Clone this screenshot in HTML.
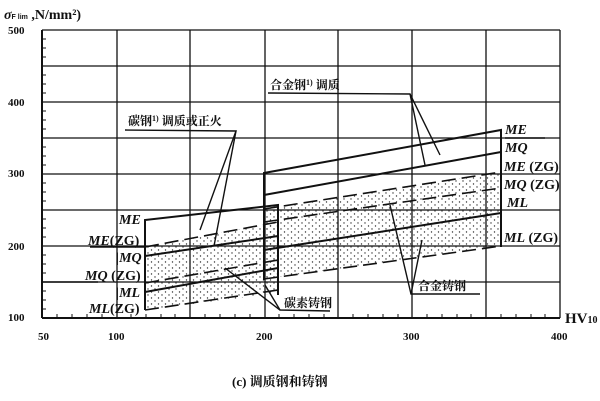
<!DOCTYPE html>
<html><head><meta charset="utf-8"><style>
body{margin:0;background:#fff}
svg{display:block}
text{font-family:"Liberation Serif","Noto Serif CJK SC",serif;fill:#111}
.b{font-family:"Liberation Sans","Noto Sans CJK SC",sans-serif;font-weight:bold}
.i{font-style:italic;font-size:14px;font-weight:bold}
</style></head><body>
<svg width="600" height="401" viewBox="0 0 600 401" xmlns="http://www.w3.org/2000/svg">
<defs>
<pattern id="d" width="7" height="6" patternUnits="userSpaceOnUse">
<circle cx="1" cy="1" r="0.7" fill="#333"/><circle cx="4.5" cy="4" r="0.7" fill="#333"/>
</pattern>
</defs>
<g stroke="#111" stroke-width="1.3">
<line x1="42" y1="30" x2="560" y2="30"/>
<line x1="42" y1="66" x2="560" y2="66"/>
<line x1="42" y1="102" x2="560" y2="102"/>
<line x1="42" y1="138" x2="560" y2="138"/>
<line x1="42" y1="174" x2="560" y2="174"/>
<line x1="42" y1="210" x2="560" y2="210"/>
<line x1="42" y1="246" x2="560" y2="246"/>
<line x1="42" y1="282" x2="560" y2="282"/>
<line x1="117" y1="30" x2="117" y2="318"/>
<line x1="190" y1="30" x2="190" y2="318"/>
<line x1="265" y1="30" x2="265" y2="318"/>
<line x1="338" y1="30" x2="338" y2="318"/>
<line x1="412" y1="30" x2="412" y2="318"/>
<line x1="486" y1="30" x2="486" y2="318"/>
<line x1="560" y1="30" x2="560" y2="318"/>
<line x1="42" y1="30" x2="42" y2="318" stroke-width="2"/>
<line x1="42" y1="318" x2="560" y2="318" stroke-width="2"/>
</g>
<polygon points="145,247 278,222 278,293 145,310" fill="url(#d)"/>
<polygon points="264,209 501,172 501,246 264,279" fill="url(#d)"/>
<g stroke="#111" fill="none" stroke-width="2">
<polyline points="145,310 145,220 278,205 278,295"/>
<line x1="145" y1="256" x2="278" y2="236"/>
<line x1="145" y1="292" x2="278" y2="268"/>
<g stroke-dasharray="14,6" stroke-width="1.6">
<line x1="145" y1="247" x2="278" y2="222"/>
<line x1="145" y1="283" x2="278" y2="260"/>
<line x1="145" y1="310" x2="278" y2="290"/>
</g>
<polyline points="264,280 264,173 501,130 501,247"/>
<line x1="264" y1="195" x2="501" y2="152"/>
<line x1="264" y1="250" x2="501" y2="213"/>
<g stroke-dasharray="14,6" stroke-width="1.6">
<line x1="264" y1="209" x2="501" y2="172"/>
<line x1="264" y1="222" x2="501" y2="188"/>
<line x1="264" y1="279" x2="501" y2="246"/>
</g>
</g>
<g stroke="#111" fill="none" stroke-width="1.4">
<polyline points="125,130 236,131 200,230"/>
<line x1="236" y1="131" x2="214" y2="246"/>
<polyline points="268,93 410,94 440,155"/>
<line x1="410" y1="94" x2="425" y2="165"/>
<polyline points="330,311 280,310 225,268"/>
<line x1="280" y1="310" x2="265" y2="285"/>
<polyline points="480,294 411,294 390,205"/>
<line x1="411" y1="294" x2="422" y2="240"/>
<line x1="90" y1="247" x2="145" y2="247"/>
<line x1="42" y1="282" x2="98" y2="282"/>
<line x1="505" y1="138" x2="545" y2="138"/>
</g>
<g class="b" font-size="11">
<text x="8" y="34">500</text><text x="8" y="106">400</text>
<text x="8" y="177">300</text><text x="8" y="250">200</text>
<text x="8" y="321">100</text>
<text x="38" y="340">50</text><text x="108" y="340">100</text>
<text x="256" y="340">200</text><text x="403" y="340">300</text><text x="551" y="340">400</text>
</g>
<text x="4" y="19" font-size="14" font-weight="bold"><tspan font-style="italic">σ</tspan><tspan font-size="7" class="b">F lim</tspan> ,N/mm²)</text>
<text x="565" y="323" font-size="15" font-weight="bold">HV<tspan font-size="10">10</tspan></text>
<g>
<text x="119" y="224" class="i">ME</text>
<text x="88" y="245" class="i">ME<tspan font-style="normal">(ZG)</tspan></text>
<text x="116" y="262" class="i">|MQ</text>
<text x="85" y="280" class="i">MQ<tspan font-style="normal"> (ZG)</tspan></text>
<text x="116" y="297" class="i">|ML</text>
<text x="89" y="313" class="i">ML<tspan font-style="normal">(ZG)</tspan></text>
<text x="505" y="134" class="i">ME</text>
<text x="505" y="152" class="i">MQ</text>
<text x="504" y="171" class="i">ME<tspan font-style="normal"> (ZG)</tspan></text>
<text x="504" y="189" class="i">MQ<tspan font-style="normal"> (ZG)</tspan></text>
<text x="507" y="207" class="i">ML</text>
<text x="504" y="242" class="i">ML<tspan font-style="normal"> (ZG)</tspan></text>
</g>
<g class="b" font-size="12">
<text x="128" y="125">碳钢<tspan font-size="8" dy="-4">1)</tspan><tspan dy="4"> 调质或正火</tspan></text>
<text x="270" y="89">合金钢<tspan font-size="8" dy="-4">1)</tspan><tspan dy="4"> 调质</tspan></text>
<text x="284" y="307">碳素铸钢</text>
<text x="418" y="290">合金铸钢</text>
<text x="232" y="386" font-size="13">(c) 调质钢和铸钢</text>
</g>
<g stroke="#111" stroke-width="1">
<path d="M42,39h4M42,48h4M42,57h4M42,75h4M42,84h4M42,93h4M42,111h4M42,120h4M42,129h4M42,147h4M42,156h4M42,165h4M42,183h4M42,192h4M42,201h4M42,219h4M42,228h4M42,237h4M42,255h4M42,264h4M42,273h4M42,291h4M42,300h4M42,309h4"/>
<path d="M57,318v-4M72,318v-4M87,318v-4M102,318v-4M131,318v-4M146,318v-4M161,318v-4M175,318v-4M205,318v-4M220,318v-4M235,318v-4M250,318v-4M279,318v-4M294,318v-4M309,318v-4M324,318v-4M353,318v-4M368,318v-4M383,318v-4M398,318v-4M427,318v-4M442,318v-4M457,318v-4M471,318v-4M501,318v-4M516,318v-4M531,318v-4M545,318v-4"/>
</g>
</svg>
</body></html>
